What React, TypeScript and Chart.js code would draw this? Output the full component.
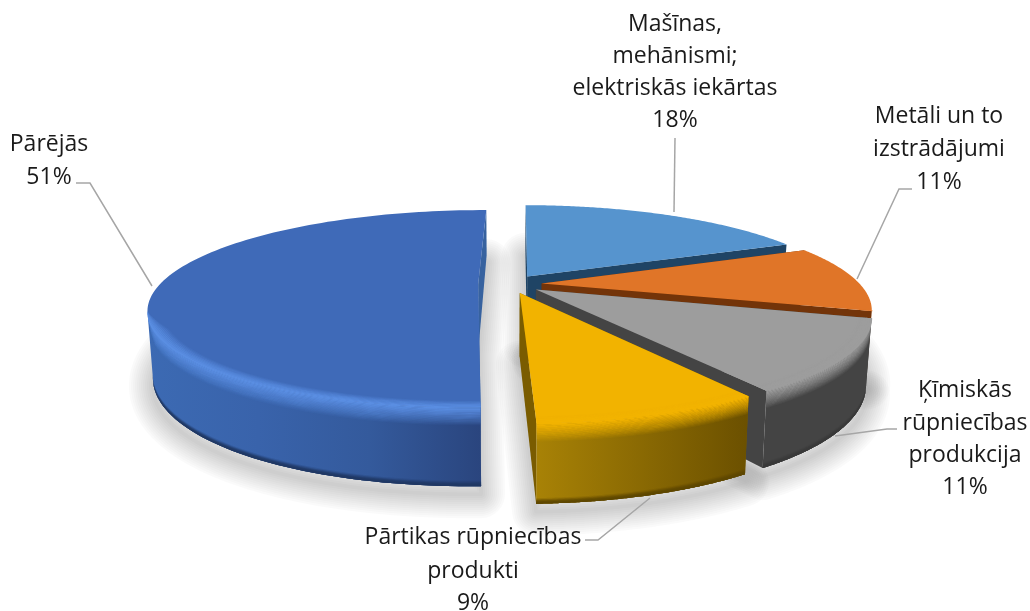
import React, { useEffect, useRef } from "react";
import { Chart, registerables } from "chart.js";

Chart.register(...registerables);

const categories = [
  "Mašīnas, mehānismi; elektriskās iekārtas",
  "Metāli un to izstrādājumi",
  "Ķīmiskās rūpniecības produkcija",
  "Pārtikas rūpniecības produkti",
  "Pārējās",
];
const values = [18.4, 11, 11.3, 8.7, 50.6];
const labelLines = [
  ["Mašīnas,", "mehānismi;", "elektriskās iekārtas", "18%"],
  ["Metāli un to", "izstrādājumi", "11%"],
  ["Ķīmiskās", "rūpniecības", "produkcija", "11%"],
  ["Pārtikas rūpniecības", "produkti", "9%"],
  ["Pārējās", "51%"],
];

// Look of each slice
const topColors = ["#5694CE", "#E07528", "#9D9D9D", "#F2B300", "#3F6AB8"];
const wallStops = [
  ["#1F4465", "#1F4465"],
  ["#7A3A10", "#6E320C"],
  ["#444444", "#444444"],
  ["#A88206", "#6B5000"],
  ["#3C6AB3", "#3963AB", "#345A9C", "#2A457E"],
];
const sideColors = ["#1F4465", "#733409", "#444444", "#7A5C00", "#37629F"];
const rimColors = ["#5694CE", "#E07528", "#9D9D9D", "#F2B300", "#5A8EE2"];
const edgeColors = ["#1F4465", "#5E2A08", "#3A3A3A", "#5E4700", "#203864"];

// Where the text sits: centre x, line centres y, leader polyline
const labelLayout = [
  { x: 675, y: [24, 56, 88, 120], leader: [[675, 138], [674, 212]] },
  { x: 939, y: [116, 149, 182], leader: [[912, 189], [899, 189], [857, 279]] },
  { x: 965, y: [390, 423, 455, 487], leader: [[897, 429], [887, 429], [835, 436]] },
  { x: 473, y: [537, 571, 603], leader: [[585, 540], [598, 540], [650, 498]] },
  { x: 49, y: [144, 177], leader: [[76, 183], [90, 183], [152, 286]] },
];

// Tilted-disc projection
const SCALE_X = 1.12;
const SCALE_Y = 0.3254;
const PERSPECTIVE = 0.249;
const EXPLODE = 0.1;
const DEPTH_BASE = 62;
const DEPTH_FRONT = 17;
const BOTTOM_SHRINK = 0.985;
const STEPS = 120;
const TAPER = 0.14;
const FONT = '23px "Open Sans"';
const SHADOW_LAYERS = 12;
const SHADOW_SPREAD = 2;
const SHADOW_DROP = 8;

type Pt = [number, number];

const pie3dPlugin = {
  id: "pie3d",
  beforeDatasetDraw(chart: any) {
    const ctx: CanvasRenderingContext2D = chart.ctx;
    const arcs: any[] = chart.getDatasetMeta(0).data;

    const maker = (arc: any) => {
      const R = arc.outerRadius;
      const a = R * SCALE_X;
      const b = R * SCALE_Y;
      const mid = (arc.startAngle + arc.endAngle) / 2 + Math.PI / 2;
      const eu = EXPLODE * Math.sin(mid);
      const ev = -EXPLODE * Math.cos(mid);
      // t = Chart.js angle, r = 0..1 along the radius, f = 0..1 down the wall
      return (t: number, r: number, f: number): Pt => {
        const th = t + Math.PI / 2;
        const u = r * Math.sin(th) + eu;
        const v = -r * Math.cos(th) + ev;
        const w = 1 - PERSPECTIVE * v;
        const x = a * u / w;
        const y = b * v / w;
        const shrink = 1 + (BOTTOM_SHRINK - 1) * f;
        const d = (DEPTH_BASE + DEPTH_FRONT * v) * f;
        return [arc.x + x * shrink, arc.y + y + d];
      };
    };

    const angles = (arc: any) => {
      const list: number[] = [];
      for (let i = 0; i <= STEPS; i++) {
        list.push(arc.startAngle + (arc.endAngle - arc.startAngle) * i / STEPS);
      }
      return list;
    };

    const poly = (pts: Pt[]) => {
      ctx.beginPath();
      pts.forEach((p, i) => (i ? ctx.lineTo(p[0], p[1]) : ctx.moveTo(p[0], p[1])));
      ctx.closePath();
    };

    const sector = (arc: any, f: number): Pt[] => {
      const P = maker(arc);
      return [P(arc.startAngle, 0, f), ...angles(arc).map((t) => P(t, 1, f))];
    };

    ctx.save();

    // soft shadow under the slices, built from widening translucent outlines
    ctx.save();
    ctx.translate(0, SHADOW_DROP);
    ctx.lineJoin = "round";
    ctx.strokeStyle = "rgba(0,0,0,0.018)";
    arcs.forEach((arc) => {
      for (let s = SHADOW_LAYERS; s >= 1; s--) {
        ctx.lineWidth = 2 * s * SHADOW_SPREAD;
        poly(sector(arc, 1));
        ctx.stroke();
      }
    });
    ctx.restore();

    // back to front
    [0, 1, 2, 4, 3].forEach((i) => {
      const arc = arcs[i];
      const P = maker(arc);
      const all = angles(arc);
      // only the part of the rim that faces the viewer (x runs right to left)
      const ts = all.filter((t, k) => {
        const next = all[Math.min(k + 1, all.length - 1)];
        const prev = all[Math.max(k - 1, 0)];
        return P(next, 1, 0)[0] < P(t, 1, 0)[0] || P(t, 1, 0)[0] < P(prev, 1, 0)[0];
      });
      // the shoulder fades out where the rim turns away from the viewer
      const reachesBack = ts.length > 0 && ts[ts.length - 1] < arc.endAngle;
      const taper = (k: number) => {
        if (!reachesBack) return 1;
        const left = (ts.length - 1 - k) / (ts.length * TAPER);
        return Math.min(1, left);
      };

      // radial walls
      ctx.fillStyle = sideColors[i];
      [arc.startAngle, arc.endAngle].forEach((t) => {
        poly([P(t, 0, 0), P(t, 1, 0), P(t, 1, 1), P(t, 0, 1)]);
        ctx.fill();
      });

      if (ts.length > 1) {
        const top = ts.map((t) => P(t, 1, 0));
        const xs = top.map((p) => p[0]);
        const grad = ctx.createLinearGradient(Math.min(...xs), 0, Math.max(...xs), 0);
        wallStops[i].forEach((c, k, list) => grad.addColorStop(k / (list.length - 1), c));
        const band = (f0: number, f1: number) => {
          poly([...ts.map((t) => P(t, 1, f0)), ...ts.slice().reverse().map((t) => P(t, 1, f1))]);
        };
        const taperedBand = (f0: number, f1: number) => {
          const a0 = ts.map((t, k) => P(t, 1, f0 * taper(k)));
          const a1 = ts.map((t, k) => P(t, 1, f1 * taper(k)));
          poly([...a0, ...a1.reverse()]);
        };

        // outer wall
        band(0, 1);
        ctx.fillStyle = grad;
        ctx.fill();

        // dark lower edge
        ctx.fillStyle = edgeColors[i];
        for (let s = 0; s < 5; s++) {
          ctx.globalAlpha = (s + 1) / 5;
          band(0.93 + s * 0.014, 1);
          ctx.fill();
        }

        // rounded shoulder of the wall
        ctx.fillStyle = rimColors[i];
        const N = 14;
        for (let s = 0; s < N; s++) {
          ctx.globalAlpha = 1 - s / N;
          taperedBand(s * 0.016, (s + 1) * 0.016 + 0.004);
          ctx.fill();
        }
        ctx.globalAlpha = 1;
      }

      // top face
      poly(sector(arc, 0));
      ctx.fillStyle = topColors[i];
      ctx.fill();

      // rim highlight on the top face
      if (ts.length > 1) {
        ctx.fillStyle = rimColors[i];
        for (let s = 0; s < 8; s++) {
          ctx.globalAlpha = (s + 1) / 8;
          const r0 = 0.96 + s * 0.005;
          const ring0 = ts.map((t, k) => P(t, 1 - (1 - r0) * taper(k), 0));
          const ring1 = ts.map((t, k) => P(t, 1 - (1 - r0 - 0.007) * taper(k), 0));
          poly([...ring0, ...ring1.reverse()]);
          ctx.fill();
        }
        ctx.globalAlpha = 1;
      }
    });

    // labels and leaders
    ctx.font = FONT;
    ctx.textAlign = "center";
    ctx.textBaseline = "middle";
    labelLayout.forEach((item, i) => {
      ctx.strokeStyle = "#A6A6A6";
      ctx.lineWidth = 1.5;
      ctx.beginPath();
      item.leader.forEach((p, k) => (k ? ctx.lineTo(p[0], p[1]) : ctx.moveTo(p[0], p[1])));
      ctx.stroke();
      ctx.fillStyle = "#1a1a1a";
      labelLines[i].forEach((line, k) => ctx.fillText(line, item.x, item.y[k]));
    });

    ctx.restore();
    return false;
  },
};

export default function App() {
  const ref = useRef<HTMLCanvasElement | null>(null);
  useEffect(() => {
    if (!ref.current) return;
    const chart = new Chart(ref.current, {
      type: "pie",
      data: {
        labels: categories,
        datasets: [{ data: values, backgroundColor: topColors, borderWidth: 0 }],
      },
      options: {
        responsive: false,
        animation: false,
        rotation: 0.4,
        layout: { padding: { right: 10, bottom: 43 } },
        plugins: { legend: { display: false }, tooltip: { enabled: false } },
      },
      plugins: [pie3dPlugin],
    } as any);
    return () => chart.destroy();
  }, []);
  return (
    <div style={{ position: "fixed", left: 0, top: 0, width: 1030, height: 611, background: "#fff" }}>
      <canvas ref={ref} width={1030} height={611} style={{ display: "block" }} />
    </div>
  );
}
